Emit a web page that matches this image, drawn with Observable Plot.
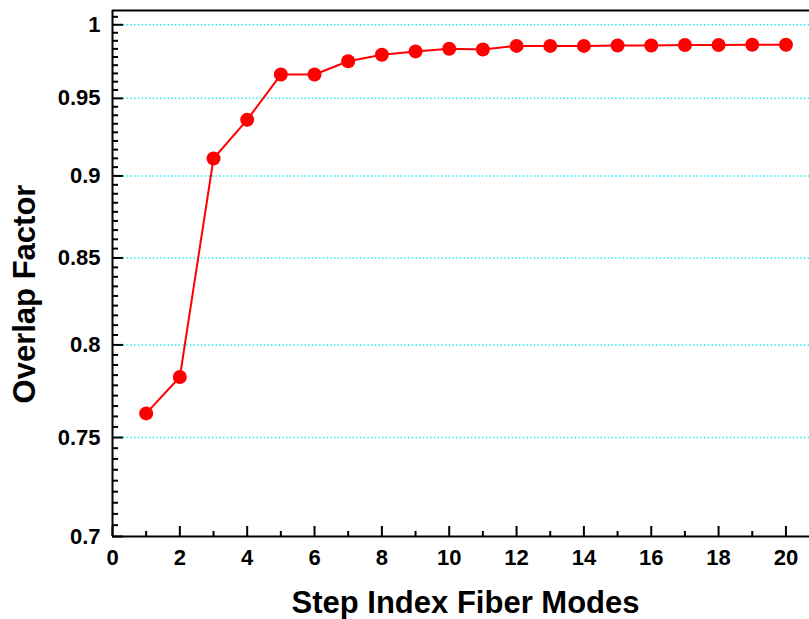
<!DOCTYPE html>
<html>
<head>
<meta charset="utf-8">
<script src="https://cdn.jsdelivr.net/npm/d3@7"></script>
<script src="https://cdn.jsdelivr.net/npm/@observablehq/plot@0.6"></script>
<style>
  html, body { margin: 0; padding: 0; background: #fff; }
  #chart { width: 809px; height: 619px; }
</style>
</head>
<body>
<div id="chart"></div>
<script>
// ---- data ----
const modes = [1, 2, 3, 4, 5, 6, 7, 8, 9, 10, 11, 12, 13, 14, 15, 16, 17, 18, 19, 20];
const overlap = [0.7627, 0.7823, 0.9110, 0.9359, 0.9659, 0.9659, 0.9749, 0.9793, 0.9816, 0.9834,
                 0.9829, 0.9854, 0.9854, 0.9854, 0.9857, 0.9857, 0.9860, 0.9860, 0.9862, 0.9862];
const xTickLabels = [0, 2, 4, 6, 8, 10, 12, 14, 16, 18, 20];
const xMinorTicks = [1, 3, 5, 7, 9, 11, 13, 15, 17, 19];
const yTickLabels = [0.7, 0.75, 0.8, 0.85, 0.9, 0.95, 1];
const yGrid = [0.75, 0.8, 0.85, 0.9, 0.95, 1];
const xDomain = [0, 20.7];
const yDomain = [0.7, 1.01];
const xTitle = "Step Index Fiber Modes";
const yTitle = "Overlap Factor";

// minor y ticks: 8 between each pair of major ticks (plus beyond 1)
const yMinorTicks = [];
for (let i = 0; i < yTickLabels.length; i++) {
  const a = yTickLabels[i];
  const step = 0.05 / 9;
  for (let k = 1; k <= 8; k++) {
    const v = a + k * step;
    if (v < yDomain[1]) yMinorTicks.push(v);
  }
}

const table = modes.map((m, i) => ({mode: m, value: overlap[i]}));

const W = 809, H = 619;
const ML = 112, MR = 0, MT = 10, MB = 83;
const PW = W - ML - MR, PH = H - MT - MB;
const font = "'Liberation Sans', Arial, Helvetica, sans-serif";

const chart = Plot.plot({
  width: W,
  height: H,
  marginLeft: ML,
  marginRight: MR,
  marginTop: MT,
  marginBottom: MB,
  style: {fontFamily: font, fontWeight: "bold", color: "black", background: "white", overflow: "visible"},
  x: {domain: xDomain, axis: null},
  y: {type: "log", domain: yDomain, axis: null},
  marks: [
    Plot.ruleY(yGrid, {stroke: "#22eeee", strokeWidth: 1.5, strokeDasharray: "1.5,2.2"}),
    // axis lines
    Plot.ruleX([xDomain[0]], {stroke: "black", strokeWidth: 2}),
    Plot.ruleY([yDomain[0]], {stroke: "black", strokeWidth: 2}),
    Plot.ruleY([yDomain[1]], {stroke: "black", strokeWidth: 2}),
    // inner ticks
    Plot.tickY(yTickLabels, {y: d => d, stroke: "black", strokeWidth: 2, insetRight: PW - 11}),
    Plot.tickY(yMinorTicks, {y: d => d, stroke: "black", strokeWidth: 2, insetRight: PW - 6}),
    Plot.tickX(xTickLabels, {x: d => d, stroke: "black", strokeWidth: 2, insetTop: PH - 10}),
    Plot.tickX(xMinorTicks, {x: d => d, stroke: "black", strokeWidth: 2, insetTop: PH - 5}),
    // tick labels
    Plot.axisY(yTickLabels, {anchor: "left", tickSize: 0, tickPadding: 12, tickFormat: d => String(d), fontSize: 22, fontWeight: "bold", label: null}),
    Plot.axisX(xTickLabels, {anchor: "bottom", tickSize: 0, tickPadding: 13, tickFormat: d => String(d), fontSize: 22, fontWeight: "bold", label: null}),
    // axis titles
    Plot.text([xTitle], {frameAnchor: "bottom", text: d => d, textAnchor: "middle", dx: 4.5, dy: 76, fontSize: 31, fontWeight: "bold", fill: "black"}),
    Plot.text([yTitle], {frameAnchor: "left", text: d => d, textAnchor: "middle", lineAnchor: "middle", rotate: -90, dx: -87, dy: 20.5, fontSize: 31, fontWeight: "bold", fill: "black"}),
    // data
    Plot.line(table, {x: "mode", y: "value", stroke: "#ff0000", strokeWidth: 2}),
    Plot.dot(table, {x: "mode", y: "value", r: 7, fill: "#ff0000", stroke: "none"})
  ]
});
document.getElementById("chart").appendChild(chart);
</script>
</body>
</html>
